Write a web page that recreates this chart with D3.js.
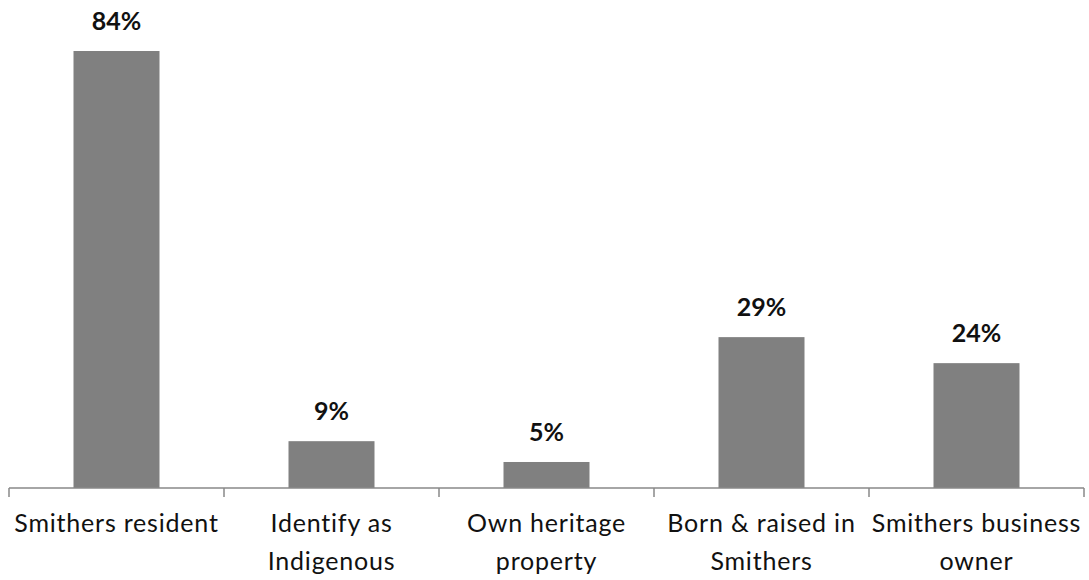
<!DOCTYPE html>
<html>
<head>
<meta charset="utf-8">
<script src="https://cdn.jsdelivr.net/npm/d3@7"></script>
<style>
  body { margin: 0; background: #fff; }
  svg { display: block; font-family: Lato, 'Open Sans', sans-serif; }
</style>
</head>
<body>
<svg width="1089" height="580"></svg>
<script>
const categories = [
  ['Smithers resident'],
  ['Identify as', 'Indigenous'],
  ['Own heritage', 'property'],
  ['Born & raised in', 'Smithers'],
  ['Smithers business', 'owner'],
];
const values = [84, 9, 5, 29, 24];

const width = 1089,
  height = 580;
const svg = d3.select('svg');

const x = d3
  .scaleBand()
  .domain(d3.range(values.length))
  .range([9, 1084])
  .paddingInner(0.6)
  .paddingOuter(0.3);
const y = d3.scaleLinear().domain([0, 84]).range([488, 51]);

// bars
svg
  .append('g')
  .selectAll('rect')
  .data(values)
  .join('rect')
  .attr('x', (d, i) => x(i))
  .attr('y', (d) => y(d))
  .attr('width', x.bandwidth())
  .attr('height', (d) => y(0) - y(d))
  .attr('fill', '#808080');

// value labels
svg
  .append('g')
  .selectAll('text')
  .data(values)
  .join('text')
  .attr('x', (d, i) => x(i) + x.bandwidth() / 2)
  .attr('y', (d) => y(d) - 21)
  .attr('text-anchor', 'middle')
  .attr('font-size', 25)
  .attr('font-weight', 'bold')
  .attr('fill', '#111')
  .text((d) => d + '%');

// x axis: baseline with ticks between categories
const edges = d3.range(values.length + 1).map((i) => 9 + i * ((1084 - 9) / values.length));
const axis = svg.append('g').attr('stroke', '#888').attr('stroke-width', 1.5);
axis.append('line').attr('x1', 9).attr('x2', 1084).attr('y1', y(0)).attr('y2', y(0));
axis
  .selectAll('.tick')
  .data(edges)
  .join('line')
  .attr('x1', (d) => d)
  .attr('x2', (d) => d)
  .attr('y1', y(0))
  .attr('y2', y(0) + 9);

// category labels
const labels = svg
  .append('g')
  .selectAll('text')
  .data(categories)
  .join('text')
  .attr('text-anchor', 'middle')
  .attr('font-size', 25)
  .attr('letter-spacing', 0.8)
  .attr('fill', '#111');
labels
  .selectAll('tspan')
  .data((d, i) => d.map((t) => ({ t, i })))
  .join('tspan')
  .attr('x', (d) => x(d.i) + x.bandwidth() / 2)
  .attr('y', (d, j) => 532 + j * 38)
  .text((d) => d.t);
</script>
</body>
</html>
